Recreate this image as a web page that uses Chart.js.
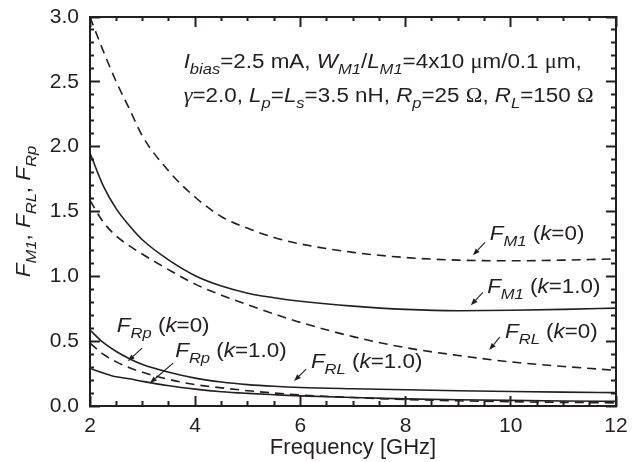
<!DOCTYPE html>
<html lang="en">
<head>
<meta charset="UTF-8">
<title>Noise factor contributions vs frequency</title>
<script src="https://cdn.jsdelivr.net/npm/chart.js"></script>
<style>
  html, body { margin: 0; padding: 0; background: #fff; }
  #wrap { width: 642px; height: 462px; }
</style>
</head>
<body>
<div id="wrap"><canvas id="chart" width="642" height="462"></canvas></div>
<script>
// frequency points [GHz]
const freq   = [2, 2.25, 2.5, 2.75, 3, 3.5, 4, 4.5, 5, 5.5, 6, 7, 8, 9, 10, 11, 12];
// k = 0 (dashed)
const fM1_k0 = [3.0, 2.74, 2.5, 2.29, 2.08, 1.81, 1.61, 1.46, 1.37, 1.30, 1.25, 1.185, 1.145, 1.125, 1.12, 1.125, 1.135];
const fRL_k0 = [1.585, 1.42, 1.31, 1.235, 1.17, 1.05, 0.94, 0.855, 0.78, 0.71, 0.645, 0.535, 0.45, 0.39, 0.34, 0.305, 0.275];
const fRp_k0 = [0.485, 0.40, 0.34, 0.295, 0.26, 0.205, 0.165, 0.14, 0.118, 0.10, 0.085, 0.065, 0.05, 0.04, 0.033, 0.028, 0.024];
// k = 1.0 (solid)
const fM1_k1 = [1.95, 1.70, 1.52, 1.39, 1.28, 1.125, 1.005, 0.925, 0.87, 0.835, 0.808, 0.77, 0.745, 0.735, 0.738, 0.745, 0.755];
const fRL_k1 = [0.585, 0.49, 0.42, 0.365, 0.32, 0.26, 0.215, 0.185, 0.165, 0.152, 0.143, 0.133, 0.125, 0.118, 0.112, 0.107, 0.103];
const fRp_k1 = [0.29, 0.255, 0.225, 0.21, 0.19, 0.156, 0.13, 0.11, 0.097, 0.087, 0.078, 0.065, 0.055, 0.048, 0.043, 0.039, 0.036];

// rich text runs: [text, flags]  i = italic, s = subscript, g = symbol (serif)
const paramLines = [
  [['I','i'],['bias','is'],['=2.5 mA, ',''],['W','i'],['M1','is'],['/',''],['L','i'],['M1','is'],['=4x10 ',''],['\u03bc','g'],['m/0.1 ',''],['\u03bc','g'],['m,','']],
  [['\u03b3','ig'],['=2.0, ',''],['L','i'],['p','is'],['=',''],['L','i'],['s','is'],['=3.5 nH, ',''],['R','i'],['p','is'],['=25 ',''],['\u03a9','g'],[', ',''],['R','i'],['L','is'],['=150 ',''],['\u03a9','g']]
];
const yTitle = [['F','i'],['M1','is'],[', ',''],['F','i'],['RL','is'],[', ',''],['F','i'],['Rp','is']];

// curve labels: text anchor and arrow (tail -> head) in data units
const curveLabels = [
  { runs: [['F','i'],['M1','is'],[' (',''],['k','i'],['=0)','']],   at: [9.60, 1.277], from: [9.51, 1.262], to: [9.28, 1.162] },
  { runs: [['F','i'],['M1','is'],[' (',''],['k','i'],['=1.0)','']], at: [9.55, 0.869], from: [9.47, 0.877], to: [9.24, 0.777] },
  { runs: [['F','i'],['RL','is'],[' (',''],['k','i'],['=0)','']],   at: [9.89, 0.523], from: [9.79, 0.531], to: [9.59, 0.431] },
  { runs: [['F','i'],['RL','is'],[' (',''],['k','i'],['=1.0)','']], at: [6.20, 0.292], from: [6.11, 0.285], to: [5.88, 0.192] },
  { runs: [['F','i'],['Rp','is'],[' (',''],['k','i'],['=0)','']],   at: [2.51, 0.569], from: [2.99, 0.446], to: [2.72, 0.346] },
  { runs: [['F','i'],['Rp','is'],[' (',''],['k','i'],['=1.0)','']], at: [3.62, 0.377], from: [3.58, 0.331], to: [3.14, 0.177] }
];

const INK = '#231f20';
const SANS = '"Liberation Sans", Arial, sans-serif';
const STRETCH = 1.12;

function drawRich(ctx, runs, x, y, size, align) {
  const parts = runs.map(([t, f]) => {
    const s = f.includes('s') ? size * 0.74 : size;
    const fam = f.includes('g') ? '"Liberation Serif", serif' : SANS;
    const font = (f.includes('i') ? 'italic ' : '') + s + 'px ' + fam;
    ctx.font = font;
    return { t, font, w: ctx.measureText(t).width, dy: f.includes('s') ? size * 0.3 : 0 };
  });
  const total = parts.reduce((a, p) => a + p.w, 0) * STRETCH;
  ctx.save();
  ctx.translate(align === 'center' ? x - total / 2 : x, y);
  ctx.scale(STRETCH, 1);
  ctx.fillStyle = INK;
  ctx.textBaseline = 'alphabetic';
  ctx.textAlign = 'left';
  let px = 0;
  parts.forEach(p => { ctx.font = p.font; ctx.fillText(p.t, px, p.dy); px += p.w; });
  ctx.restore();
}

function arrow(ctx, x1, y1, x2, y2) {
  const a = Math.atan2(y2 - y1, x2 - x1);
  const c = Math.cos(a), s = Math.sin(a);
  const bx = x2 - 7 * c, by = y2 - 7 * s;
  ctx.save();
  ctx.strokeStyle = INK; ctx.fillStyle = INK; ctx.lineWidth = 1.1;
  ctx.setLineDash([]);
  ctx.beginPath(); ctx.moveTo(x1, y1); ctx.lineTo(bx, by); ctx.stroke();
  ctx.beginPath();
  ctx.moveTo(x2, y2);
  ctx.lineTo(bx + 2.6 * s, by - 2.6 * c);
  ctx.lineTo(bx - 2.6 * s, by + 2.6 * c);
  ctx.closePath(); ctx.fill();
  ctx.restore();
}

// parameter text, curve labels with arrows, rotated y title
const annotations = {
  id: 'annotations',
  afterDraw(chart) {
    const ctx = chart.ctx;
    const x = chart.scales.x, y = chart.scales.y;
    paramLines.forEach((runs, i) => {
      drawRich(ctx, runs, x.getPixelForValue(3.78), y.getPixelForValue(2.61 - i * 0.262), 20);
    });
    curveLabels.forEach(l => {
      drawRich(ctx, l.runs, x.getPixelForValue(l.at[0]), y.getPixelForValue(l.at[1]), 20);
      arrow(ctx, x.getPixelForValue(l.from[0]), y.getPixelForValue(l.from[1]),
                 x.getPixelForValue(l.to[0]), y.getPixelForValue(l.to[1]));
    });
    const a = chart.chartArea;
    ctx.save();
    ctx.translate(30, (a.top + a.bottom) / 2);
    ctx.rotate(-Math.PI / 2);
    drawRich(ctx, yTitle, 0, 0, 20, 'center');
    ctx.restore();
  }
};

function series(vals, dashed) {
  return {
    data: freq.map((f, i) => ({ x: f, y: vals[i] })),
    borderColor: INK,
    borderWidth: 1.6,
    borderDash: dashed ? [9, 6] : [],
    pointRadius: 0,
    fill: false,
    cubicInterpolationMode: 'monotone'
  };
}

const isMajorX = v => Math.abs(v / 2 - Math.round(v / 2)) < 1e-6;
const isMajorY = v => Math.abs(v * 2 - Math.round(v * 2)) < 1e-6;

// inward tick marks; minor ticks shortened with a dash pattern
function tickGrid(isMajor, fromBorder) {
  return {
    display: true,
    drawOnChartArea: false,
    drawTicks: true,
    tickLength: -10,
    tickWidth: 2,
    tickColor: INK,
    tickBorderDash: c => isMajor(c.tick.value) ? [] : (fromBorder ? [6, 60] : [0, 6, 6, 60])
  };
}
const frame = { display: true, width: 2, color: INK };

new Chart(document.getElementById('chart'), {
  type: 'line',
  data: {
    datasets: [
      series(fM1_k0, true), series(fRL_k0, true), series(fRp_k0, true),
      series(fM1_k1, false), series(fRL_k1, false), series(fRp_k1, false)
    ]
  },
  options: {
    responsive: false,
    animation: false,
    layout: { padding: { top: 17, right: 26, left: 0, bottom: 0 } },
    plugins: { legend: { display: false }, tooltip: { enabled: false } },
    scales: {
      x: {
        type: 'linear', position: 'bottom', min: 2, max: 12,
        ticks: { stepSize: 0.5, autoSkip: false, maxRotation: 0, color: INK, padding: 18,
                 callback: v => isMajorX(v) ? String(v) : '',
                 font: { family: SANS, size: 21 } },
        grid: tickGrid(isMajorX, true),
        border: frame,
        title: { display: true, text: 'Frequency [GHz]', color: INK, padding: { top: 0, bottom: 1 },
                 font: { family: SANS, size: 22 } },
        afterFit(s) { s.height = 56; s.paddingLeft = 0; s.paddingRight = 0; }
      },
      x2: {
        type: 'linear', position: 'top', min: 2, max: 12,
        ticks: { stepSize: 0.5, autoSkip: false, display: false },
        grid: tickGrid(isMajorX, false),
        border: frame,
        afterFit(s) { s.height = 0; s.paddingLeft = 0; s.paddingRight = 0; }
      },
      y: {
        type: 'linear', position: 'left', min: 0, max: 3,
        ticks: { stepSize: 0.1, autoSkip: false, color: INK, padding: 21,
                 callback: v => isMajorY(v) ? v.toFixed(1) : '',
                 font: { family: SANS, size: 21 } },
        grid: tickGrid(isMajorY, false),
        border: frame,
        afterFit(s) { s.width = 90; s.paddingTop = 0; s.paddingBottom = 0; }
      },
      y2: {
        type: 'linear', position: 'right', min: 0, max: 3,
        ticks: { stepSize: 0.1, autoSkip: false, display: false },
        grid: tickGrid(isMajorY, true),
        border: frame,
        afterFit(s) { s.width = 0; s.paddingTop = 0; s.paddingBottom = 0; }
      }
    }
  },
  plugins: [annotations]
});
</script>
</body>
</html>
